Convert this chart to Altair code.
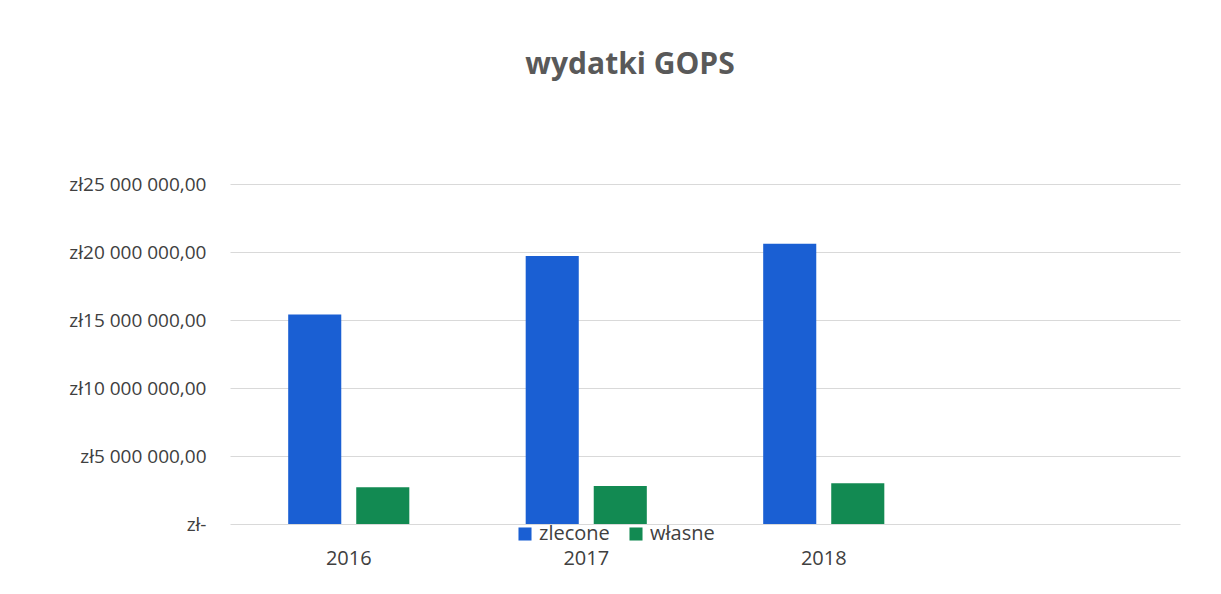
import altair as alt
import pandas as pd

years = ["2016", "2017", "2018"]
series = ["zlecone", "własne"]
zlecone = [15400000, 19700000, 20600000]
wlasne = [2700000, 2800000, 3000000]
y_ticks = [0, 5000000, 10000000, 15000000, 20000000, 25000000]

rows = []
for i, yr in enumerate(years):
    rows.append({"rok": yr, "rodzaj": "zlecone", "kwota": zlecone[i]})
    rows.append({"rok": yr, "rodzaj": "własne", "kwota": wlasne[i]})
df = pd.DataFrame(rows)

FONT = "Open Sans"

chart = alt.Chart(df).mark_bar().encode(
    x=alt.X("rok:N", scale=alt.Scale(domain=years + [" "], paddingInner=0.49, paddingOuter=0.245),
            axis=alt.Axis(title=None, domain=False, ticks=False, labelFontSize=20, labelColor="#404040",
                          labelFont=FONT, labelPadding=24, labelAngle=0)),
    xOffset=alt.XOffset("rodzaj:N", scale=alt.Scale(domain=series, paddingInner=0.22)),
    y=alt.Y("kwota:Q", scale=alt.Scale(domain=[0, 25000000], nice=False),
            axis=alt.Axis(title=None, values=y_ticks, domain=False, ticks=False, labelFontSize=19,
                          labelFont=FONT, labelColor="#404040", labelPadding=24,
                          gridColor="#d9d9d9", gridWidth=1,
                          labelExpr="datum.value == 0 ? 'zł-' : 'zł' + format(datum.value / 1000000, 'd') + ' 000 000,00'")),
    color=alt.Color("rodzaj:N", scale=alt.Scale(domain=series, range=["#1a5fd3", "#128a52"]),
                    legend=alt.Legend(title=None, orient="none", direction="horizontal", legendX=285, legendY=340,
                                      symbolType="square", symbolSize=170, symbolStrokeWidth=0,
                                      labelFontSize=20, labelFont=FONT, labelColor="#404040",
                                      columnPadding=16, labelOffset=4)),
).properties(
    width=950,
    height=340,
    title=alt.TitleParams("wydatki GOPS", fontSize=30, font=FONT, fontWeight="bold", color="#595959",
                          anchor="middle", dx=-75, offset=95),
    padding={"left": 222, "top": 176, "right": 30, "bottom": 50},
    autosize=alt.AutoSizeParams(type="none"),
).configure(background="white").configure_view(stroke=None, strokeWidth=0)

chart.save("out.html", embed_options={"renderer": "svg", "actions": False})
